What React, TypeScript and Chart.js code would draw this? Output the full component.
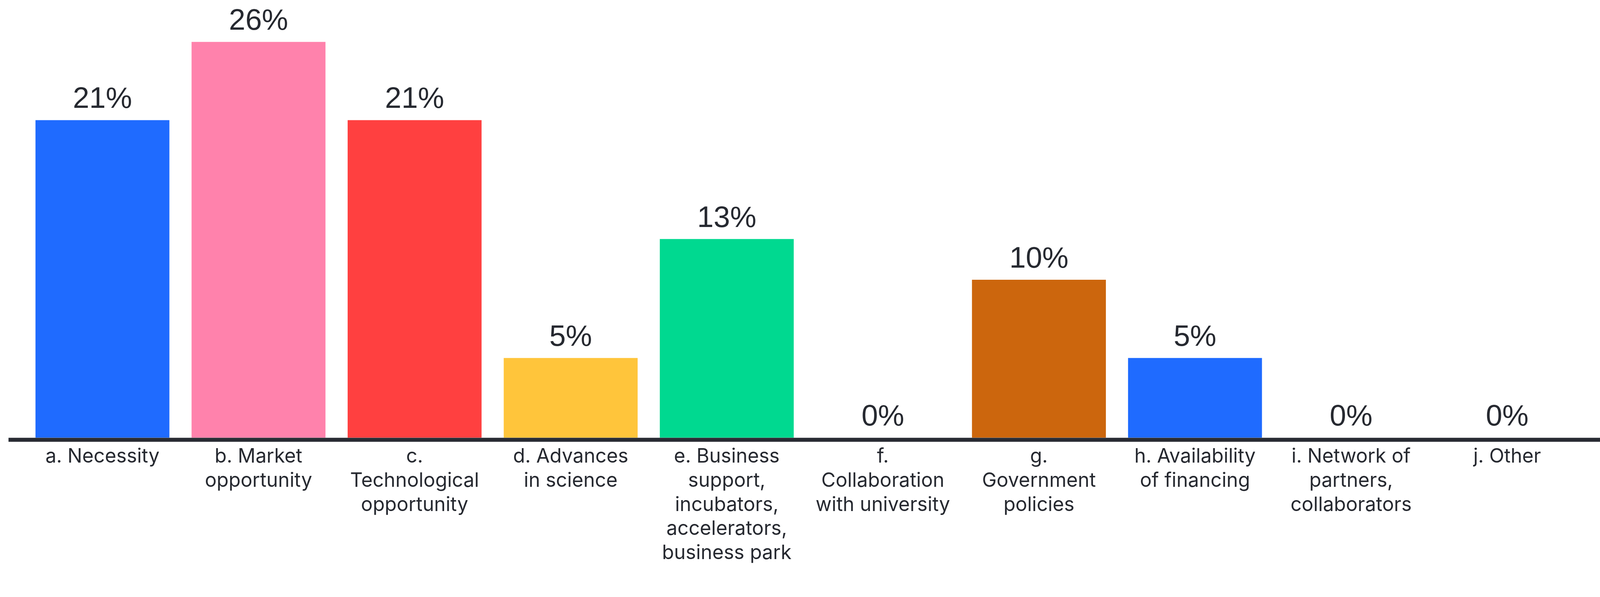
import React, { useEffect, useRef } from "react";
import { Chart, registerables } from "chart.js";

Chart.register(...registerables);

const categories: (string | string[])[] = [
  "a. Necessity",
  ["b. Market", "opportunity"],
  ["c.", "Technological", "opportunity"],
  ["d. Advances", "in science"],
  ["e. Business", "support,", "incubators,", "accelerators,", "business park"],
  ["f.", "Collaboration", "with university"],
  ["g.", "Government", "policies"],
  ["h. Availability", "of financing"],
  ["i. Network of", "partners,", "collaborators"],
  "j. Other",
];

const values: number[] = [21.1, 26.3, 21.1, 5.3, 13.2, 0, 10.5, 5.3, 0, 0];

const barColors: string[] = [
  "#1f6bff",
  "#ff82ac",
  "#ff4040",
  "#ffc53b",
  "#00d990",
  "#9e9e9e",
  "#cc660d",
  "#1f6bff",
  "#9e9e9e",
  "#9e9e9e",
];

const TEXT_COLOR = "#262930";
const AXIS_COLOR = "#282b33";

const BASE_W = 4328;
const BASE_H = 1528;

export default function App() {
  const canvasRef = useRef<HTMLCanvasElement | null>(null);

  useEffect(() => {
    document.body.style.margin = "0";
    document.body.style.background = "#ffffff";
    document.body.style.overflow = "hidden";
    const canvas = canvasRef.current;
    if (!canvas) return;
    const vw = window.innerWidth || BASE_W;
    const vh = window.innerHeight || BASE_H;
    const s = Math.min(vw / BASE_W, vh / BASE_H);
    const W = Math.floor(BASE_W * s);
    const H = Math.floor(BASE_H * s);
    canvas.width = W;
    canvas.height = H;
    canvas.style.width = W + "px";
    canvas.style.height = H + "px";

    const valueLabelPlugin = {
      id: "valueLabels",
      afterDatasetsDraw(chart: any) {
        const ctx = chart.ctx;
        const meta = chart.getDatasetMeta(0);
        const data = chart.data.datasets[0].data as number[];
        ctx.save();
        ctx.font = `${80 * s}px "Liberation Sans", Arial, sans-serif`;
        ctx.fillStyle = TEXT_COLOR;
        ctx.textAlign = "center";
        ctx.textBaseline = "alphabetic";
        meta.data.forEach((bar: any, i: number) => {
          const label = Math.floor(data[i]) + "%";
          ctx.fillText(label, bar.x, bar.y - 33 * s);
        });
        ctx.restore();
      },
    };

    const axisLinePlugin = {
      id: "axisLine",
      afterDatasetsDraw(chart: any) {
        const ctx = chart.ctx;
        const y0 = chart.scales.y.getPixelForValue(0);
        ctx.save();
        ctx.strokeStyle = AXIS_COLOR;
        ctx.lineWidth = 11 * s;
        ctx.beginPath();
        ctx.moveTo(chart.chartArea.left - 43 * s, y0 + 5.5 * s);
        ctx.lineTo(chart.width, y0 + 5.5 * s);
        ctx.stroke();
        ctx.restore();
      },
    };

    const chart = new Chart(canvas, {
      type: "bar",
      data: {
        labels: categories,
        datasets: [
          {
            data: values,
            backgroundColor: barColors,
            borderWidth: 0,
            categoryPercentage: 1,
            barPercentage: 0.858,
          },
        ],
      },
      options: {
        responsive: false,
        devicePixelRatio: 1,
        animation: false,
        layout: { padding: { top: 44 * s, left: 66 * s, right: 40 * s, bottom: 0 } },
        plugins: {
          legend: { display: false },
          tooltip: { enabled: false },
          title: { display: false },
        },
        scales: {
          x: {
            grid: { display: false, drawTicks: false },
            border: { display: false },
            ticks: {
              autoSkip: false,
              maxRotation: 0,
              minRotation: 0,
              padding: 19 * s,
              color: TEXT_COLOR,
              font: { family: "Inter, 'Noto Sans', sans-serif", size: 53 * s, lineHeight: 1.23 },
            },
            afterFit: (axis: any) => {
              axis.height = 344 * s;
            },
          },
          y: {
            display: false,
            min: 0,
            max: 28,
          },
        },
      },
      plugins: [axisLinePlugin, valueLabelPlugin],
    });
    return () => chart.destroy();
  }, []);

  return (
    <div style={{ background: "#ffffff" }}>
      <canvas ref={canvasRef} style={{ display: "block" }} />
    </div>
  );
}
